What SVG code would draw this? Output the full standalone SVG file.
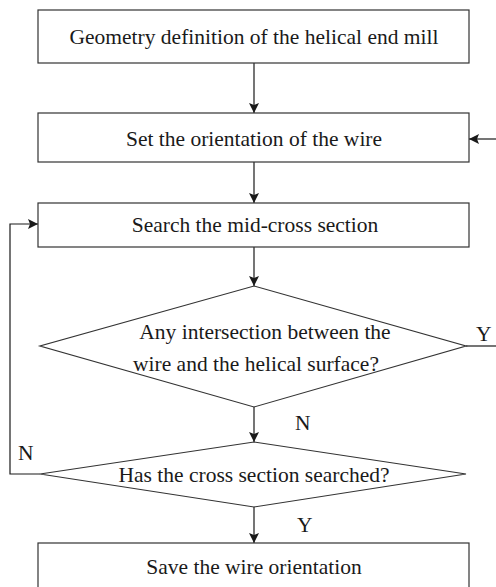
<svg xmlns="http://www.w3.org/2000/svg" width="496" height="587" viewBox="0 0 496 587">
<defs>
<style>
.box{fill:#fff;stroke:#333;stroke-width:1.2}
.t{font-family:"Liberation Serif","Times New Roman",serif;font-size:21.5px;fill:#1a1a1a;text-anchor:middle}
.l{font-family:"Liberation Serif","Times New Roman",serif;font-size:21.5px;fill:#1a1a1a}
.c{fill:none;stroke:#1a1a1a;stroke-width:1.2}
</style>
<marker id="ah" viewBox="0 0 10 10" refX="10" refY="5" markerWidth="10" markerHeight="10" markerUnits="userSpaceOnUse" orient="auto">
<path d="M0,0 L10,5 L0,10 L2,5 Z" fill="#1a1a1a"/>
</marker>
</defs>
<rect width="496" height="587" fill="#fff"/>
<g id="connectors">
<line class="c" x1="254" y1="63" x2="254" y2="113" marker-end="url(#ah)"/>
<line class="c" x1="496" y1="139" x2="469" y2="139" marker-end="url(#ah)"/>
<line class="c" x1="254" y1="162" x2="254" y2="203" marker-end="url(#ah)"/>
<line class="c" x1="254" y1="247" x2="254" y2="286" marker-end="url(#ah)"/>
<line class="c" x1="466" y1="346" x2="496" y2="346"/>
<line class="c" x1="254" y1="407" x2="254" y2="442" marker-end="url(#ah)"/>
<polyline class="c" points="40,474 10,474 10,224 38,224" marker-end="url(#ah)"/>
<line class="c" x1="254" y1="507" x2="254" y2="543" marker-end="url(#ah)"/>
<text class="l" x="476" y="341">Y</text>
<text class="l" x="295" y="430">N</text>
<text class="l" x="18" y="460">N</text>
<text class="l" x="297" y="532">Y</text>
</g>
<g id="n1">
<rect class="box" x="38" y="10" width="431" height="53"/>
<text class="t" x="254" y="44">Geometry definition of the helical end mill</text>
</g>
<g id="n2">
<rect class="box" x="38" y="113" width="431" height="49"/>
<text class="t" x="254" y="146">Set the orientation of the wire</text>
</g>
<g id="n3">
<rect class="box" x="38" y="203" width="431" height="44"/>
<text class="t" x="255" y="232">Search the mid-cross section</text>
</g>
<g id="n4">
<polygon class="box" points="254,286 466,346 254,407 40,346"/>
<text class="t" x="265" y="339">Any intersection between the</text>
<text class="t" x="256" y="371">wire and the helical surface?</text>
</g>
<g id="n5">
<polygon class="box" points="254,442 466,474 254,507 40,474"/>
<text class="t" x="254" y="482">Has the cross section searched?</text>
</g>
<g id="n6">
<rect class="box" x="38" y="543" width="431" height="60"/>
<text class="t" x="254" y="574">Save the wire orientation</text>
</g>
</svg>
